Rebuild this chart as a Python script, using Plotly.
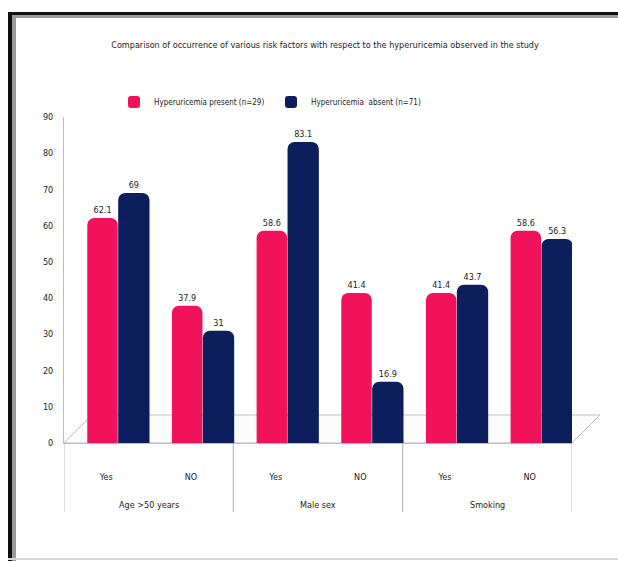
import plotly.graph_objects as go

# ---- data ----
groups = ["Age >50 years", "Age >50 years", "Male sex", "Male sex", "Smoking", "Smoking"]
answers = ["Yes", "NO", "Yes", "NO", "Yes", "NO"]
present = [62.1, 37.9, 58.6, 41.4, 41.4, 58.6]
absent = [69, 31, 83.1, 16.9, 43.7, 56.3]
series_names = ["Hyperuricemia present (n=29)", "Hyperuricemia  absent (n=71)"]
title_text = "Comparison of occurrence of various risk factors with respect to the hyperuricemia observed in the study"
y_ticks = [0, 10, 20, 30, 40, 50, 60, 70, 80, 90]

# ---- layout geometry ----
W, H = 618, 561
ML, MR, MT, MB = 64, 46, 117, 118
PW, PH = W - ML - MR, H - MT - MB


def px(x):
    return (x - ML) / PW


def py(y):
    return ((H - MB) - y) / PH


FONT = "DejaVu Sans Condensed, Liberation Sans Narrow, Arial Narrow, Liberation Sans, sans-serif"
PINK = "#F2125C"
NAVY = "#0D1E5C"
GRID = "#BDBDBD"

# unique category keys (group + answer); ticks show the answer only
cats = [f"{g} | {a}" for g, a in zip(groups, answers)]
group_names = list(dict.fromkeys(groups))

fig = go.Figure()
fig.add_trace(go.Bar(
    x=cats, y=present, name=series_names[0],
    marker=dict(color=PINK, line=dict(width=0), cornerradius=7),
    offset=-0.225, width=0.36,
    text=[f"{v:g}" for v in present], textposition="outside",
    textfont=dict(size=9, color="#222", family=FONT), cliponaxis=False,
))
fig.add_trace(go.Bar(
    x=cats, y=absent, name=series_names[1],
    marker=dict(color=NAVY, line=dict(width=0), cornerradius=7),
    offset=0.14, width=0.37,
    text=[f"{v:g}" for v in absent], textposition="outside",
    textfont=dict(size=9, color="#222", family=FONT), cliponaxis=False,
))

# group labels centred under their categories, and dividers between groups
annotations = []
shapes = []
for gname in group_names:
    idx = [i for i, g in enumerate(groups) if g == gname]
    centre = sum(idx) / len(idx)
    annotations.append(dict(text=gname, x=centre, xref="x", y=py(505), yref="paper",
                            showarrow=False, yanchor="middle",
                            font=dict(size=9, color="#222", family=FONT)))
    for edge in (min(idx) - 0.5, max(idx) + 0.5):
        shapes.append(dict(type="line", xref="x", yref="paper", x0=edge, x1=edge,
                           y0=py(443), y1=py(512), line=dict(color=GRID, width=1)))

# 3D floor outline and frame
shapes += [
    dict(type="path", xref="paper", yref="paper", layer="below",
         path=f"M {px(64)},{py(443)} L {px(572)},{py(443)} L {px(600)},{py(415)} L {px(92)},{py(415)} Z",
         line=dict(color=GRID, width=1), fillcolor="rgba(252,252,252,1)"),
    dict(type="rect", xref="paper", yref="paper", x0=px(8), x1=px(12), y0=py(561), y1=py(12),
         line=dict(width=0), fillcolor="#111"),
    dict(type="rect", xref="paper", yref="paper", x0=px(12), x1=px(16), y0=py(561), y1=py(16),
         line=dict(width=0), fillcolor="#9a9a9a"),
    dict(type="rect", xref="paper", yref="paper", x0=px(8), x1=px(618), y0=py(15), y1=py(12),
         line=dict(width=0), fillcolor="#111"),
    dict(type="rect", xref="paper", yref="paper", x0=px(12), x1=px(618), y0=py(18), y1=py(15),
         line=dict(width=0), fillcolor="#9a9a9a"),
    dict(type="line", xref="paper", yref="paper", x0=px(8), x1=px(618), y0=py(559), y1=py(559),
         line=dict(color="#d8d8d8", width=2)),
]

fig.update_layout(
    width=W, height=H,
    margin=dict(l=ML, r=MR, t=MT, b=MB),
    paper_bgcolor="white", plot_bgcolor="rgba(0,0,0,0)",
    barmode="overlay",
    font=dict(family=FONT, size=9, color="#222"),
    title=dict(text=title_text, x=325 / W, xref="container", xanchor="center",
               y=1 - 45 / H, yref="container", yanchor="middle",
               font=dict(size=9, color="#222", family=FONT)),
    legend=dict(orientation="h", x=px(114), y=py(102), xanchor="left", yanchor="middle",
                font=dict(size=8, color="#222", family=FONT), itemwidth=30,
                entrywidth=112, entrywidthmode="pixels",
                bgcolor="rgba(0,0,0,0)", traceorder="normal"),
    shapes=shapes,
    annotations=annotations,
    xaxis=dict(type="category", range=[-0.5, 5.5], tickvals=cats, ticktext=answers,
               showline=True, linecolor=GRID, linewidth=1, showgrid=False, ticks="",
               ticklabelstandoff=25, tickfont=dict(size=9, color="#222", family=FONT)),
    yaxis=dict(range=[0, 90], tickvals=y_ticks, showline=True, linecolor=GRID,
               linewidth=1, showgrid=False, zeroline=False, ticks="",
               ticklabelstandoff=8, tickfont=dict(size=9, color="#222", family=FONT)),
)

fig.write_html("out.html")
